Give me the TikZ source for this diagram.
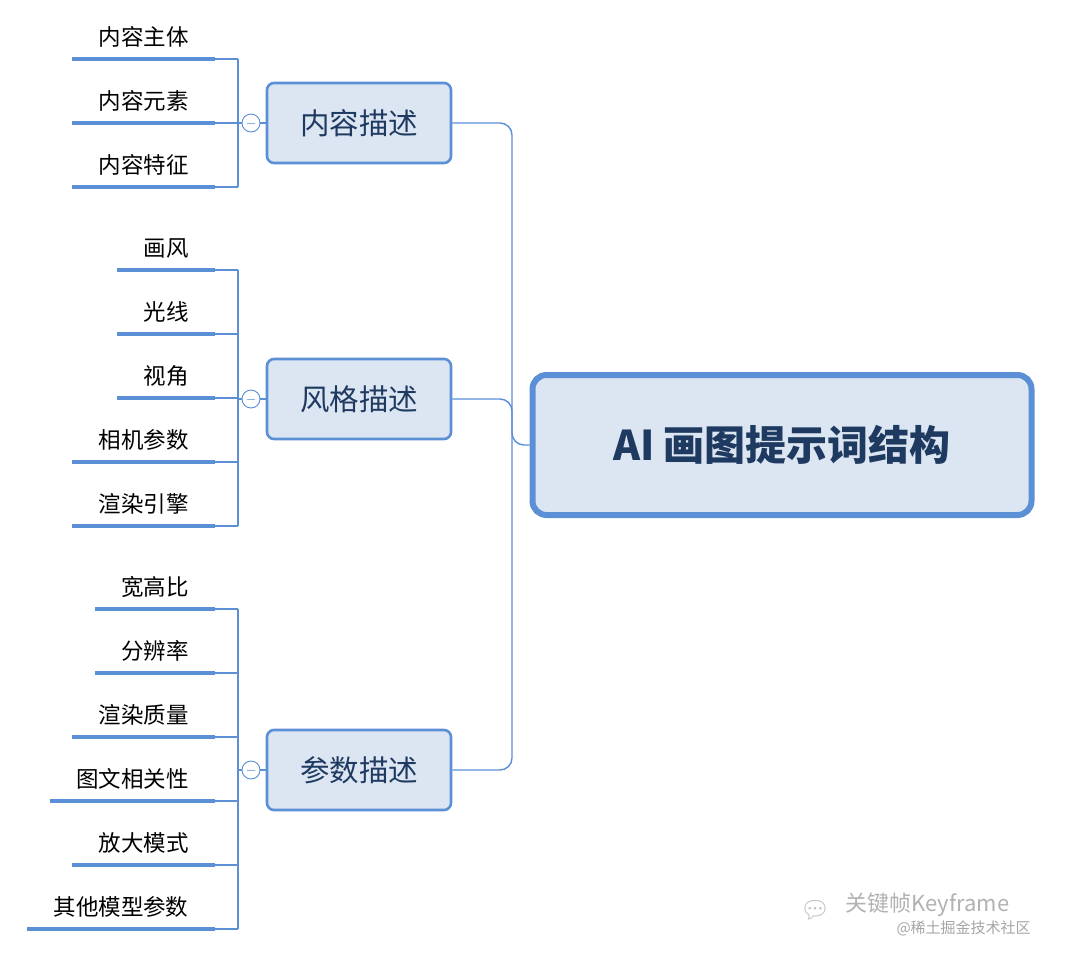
\documentclass[tikz,border=0pt]{standalone}
\usepackage{fontspec}
\setmainfont{Noto Sans CJK SC}
\newfontfamily\emojifont{Noto Emoji}
\begin{document}
\begin{tikzpicture}[x=1pt,y=-1pt,
  blu/.style={draw=lineblue},
  leafline/.style={draw=lineblue,line width=4pt},
  leaftxt/.style={font=\fontsize{22.5}{26}\selectfont,text=black,anchor=south},
  midbox/.style={draw=lineblue,line width=2.6pt,fill=boxfill,rounded corners=7pt,minimum width=184pt,minimum height=80pt,font=\fontsize{29.5}{34}\selectfont,text=textblue},
  knob/.style={circle,draw=lineblue,fill=white,minimum size=18pt,inner sep=0pt,line width=0.9pt}]
\definecolor{lineblue}{HTML}{5B8FD6}
\definecolor{boxfill}{HTML}{DCE6F2}
\definecolor{textblue}{HTML}{1F3A60}
\fill[white] (0,0) rectangle (1080,959);
\useasboundingbox (0,0) rectangle (1080,959);
% main
\node[draw=lineblue,line width=6pt,fill=boxfill,rounded corners=14pt,minimum width=499pt,minimum height=140pt,font=\fontsize{41}{48}\selectfont\bfseries,text=textblue] (main) at (782,445) {AI 画图提示词结构};
\node[midbox] (n1) at (359,123) {内容描述};
\node[midbox] (n2) at (359,399) {风格描述};
\node[midbox] (n3) at (359,770) {参数描述};
\coordinate (t) at (512,445);
\draw[blu,line width=1.4pt,rounded corners=12pt] (main.west) -- (t) |- (n1.east);
\draw[blu,line width=1.4pt,rounded corners=12pt] (t) |- (n2.east);
\draw[blu,line width=1.4pt,rounded corners=12pt] (t) |- (n3.east);
% leaves
\foreach \g/\cy/\items in {1/123/{72/59/内容主体,72/123/内容元素,72/187/内容特征},
  2/399/{117/270/画风,117/334/光线,117/398/视角,72/462/相机参数,72/526/渲染引擎},
  3/770/{95/609/宽高比,95/673/分辨率,72/737/渲染质量,50/801/图文相关性,72/865/放大模式,27/929/其他模型参数}}{
  \foreach \xs/\yy/\txt [count=\i] in \items {
    \coordinate (a\g\i) at (\xs,\yy);
    \coordinate (b\g\i) at (215,\yy);
    \coordinate (c\g\i) at (238,\yy);
    \draw[leafline] (a\g\i) -- (b\g\i);
    \draw[blu,line width=1.4pt] (b\g\i) -- (c\g\i);
    \path (a\g\i) -- (b\g\i) node[midway,above=8pt,leaftxt,anchor=south] {\txt};
  }
}
\draw[blu,line width=1.4pt] (c11) -- (c13);
\draw[blu,line width=1.4pt] (c21) -- (c25);
\draw[blu,line width=1.4pt] (c31) -- (c36);
\foreach \n/\cy in {1/123,2/399,3/770}{
  \coordinate (m\n) at (238,\cy);
  \node[knob] (k\n) at (251,\cy) {};
  \draw[blu,line width=1.4pt] (m\n) -- (k\n.west);
  \draw[blu,line width=1.4pt] (k\n.east) -- (n\n.west);
  \draw[lineblue!70,line width=0.9pt] ([xshift=-4pt]k\n.center) -- ([xshift=4pt]k\n.center);
}
% watermark
\node[text=black!30,font=\fontsize{22}{26}\selectfont,anchor=west] (wm1) at (842,905) {关键帧Keyframe};
\node[text=black!35,font=\fontsize{15}{18}\selectfont,anchor=west] (wm2) at (893,928) {@稀土掘金技术社区};
\node[text=black!25,font=\fontsize{24}{24}\selectfont] (wmi) at (815,910) {\emojifont 💬};
\end{tikzpicture}
\end{document}
